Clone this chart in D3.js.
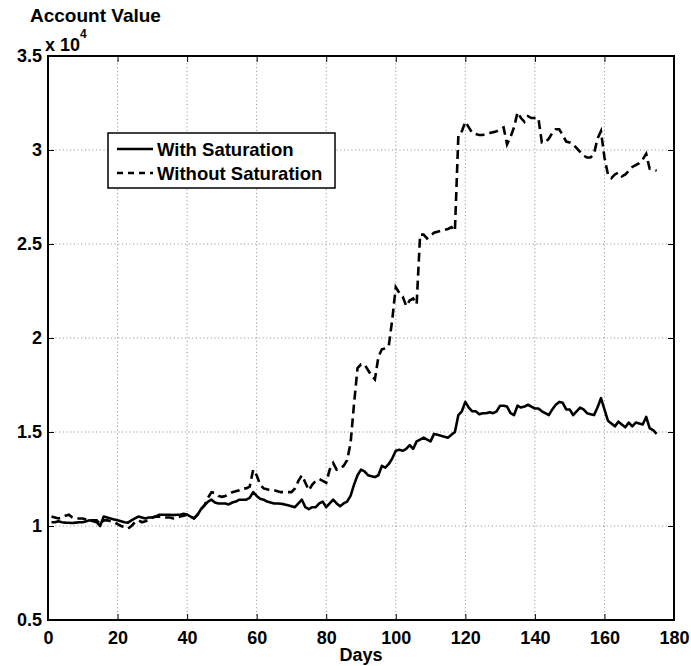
<!DOCTYPE html>
<html>
<head>
<meta charset="utf-8">
<script src="https://cdn.jsdelivr.net/npm/d3@7"></script>
<style>
  body { margin: 0; background: #fff; }
  svg { display: block; font-family: "Liberation Sans", Arial, Helvetica, sans-serif; font-weight: bold; }
</style>
</head>
<body>
<svg id="chart" width="691" height="666"></svg>
<script>
// account value in units of 10^4, one reading per day (day 1 .. 175)
const withSaturation = [
  1.02, 1.02, 1.025, 1.02, 1.018, 1.017, 1.016, 1.018, 1.02, 1.02,
  1.025, 1.03, 1.025, 1.02, 1.00, 1.05, 1.045, 1.04, 1.035, 1.03,
  1.025, 1.02, 1.018, 1.03, 1.04, 1.05, 1.045, 1.04, 1.045, 1.045,
  1.05, 1.06, 1.06, 1.06, 1.06, 1.058, 1.06, 1.06, 1.065, 1.06,
  1.05, 1.04, 1.06, 1.09, 1.11, 1.13, 1.14, 1.125, 1.12, 1.12,
  1.12, 1.115, 1.125, 1.13, 1.14, 1.14, 1.14, 1.15, 1.18, 1.16,
  1.145, 1.14, 1.13, 1.125, 1.12, 1.12, 1.118, 1.115, 1.11, 1.105,
  1.10, 1.12, 1.14, 1.10, 1.09, 1.10, 1.10, 1.12, 1.13, 1.10,
  1.12, 1.14, 1.12, 1.105, 1.12, 1.13, 1.16, 1.22, 1.27, 1.30,
  1.29, 1.27, 1.265, 1.26, 1.27, 1.32, 1.31, 1.33, 1.36, 1.40,
  1.405, 1.40, 1.41, 1.43, 1.41, 1.45, 1.46, 1.47, 1.46, 1.45,
  1.49, 1.485, 1.48, 1.475, 1.47, 1.485, 1.50, 1.59, 1.61, 1.66,
  1.63, 1.61, 1.61, 1.595, 1.60, 1.60, 1.605, 1.60, 1.61, 1.64,
  1.64, 1.635, 1.60, 1.59, 1.64, 1.63, 1.635, 1.645, 1.635, 1.625,
  1.625, 1.61, 1.60, 1.59, 1.62, 1.645, 1.66, 1.655, 1.62, 1.62,
  1.59, 1.61, 1.63, 1.62, 1.60, 1.595, 1.59, 1.63, 1.68, 1.62,
  1.56, 1.545, 1.53, 1.555, 1.54, 1.525, 1.55, 1.53, 1.55, 1.545,
  1.54, 1.58, 1.52, 1.51, 1.49
]

const withoutSaturation = [
  1.05, 1.045, 1.04, 1.045, 1.055, 1.06, 1.045, 1.04, 1.04, 1.04,
  1.035, 1.03, 1.03, 1.03, 1.01, 1.03, 1.03, 1.025, 1.02, 1.01,
  1.00, 0.995, 0.986, 1.00, 1.02, 1.03, 1.02, 1.025, 1.03, 1.045,
  1.05, 1.05, 1.05, 1.045, 1.045, 1.04, 1.045, 1.05, 1.055, 1.06,
  1.05, 1.04, 1.06, 1.09, 1.11, 1.15, 1.18, 1.175, 1.16, 1.155,
  1.16, 1.17, 1.18, 1.185, 1.19, 1.20, 1.20, 1.21, 1.30, 1.27,
  1.22, 1.20, 1.195, 1.19, 1.19, 1.185, 1.18, 1.18, 1.18, 1.18,
  1.20, 1.24, 1.27, 1.23, 1.19, 1.22, 1.24, 1.25, 1.24, 1.23,
  1.30, 1.335, 1.30, 1.305, 1.32, 1.35, 1.44, 1.65, 1.84, 1.86,
  1.86, 1.83, 1.80, 1.78, 1.90, 1.94, 1.945, 1.96, 2.10, 2.27,
  2.24, 2.22, 2.17, 2.20, 2.21, 2.18, 2.55, 2.55, 2.53, 2.545,
  2.56, 2.565, 2.57, 2.575, 2.58, 2.59, 2.57, 3.08, 3.10, 3.15,
  3.12, 3.09, 3.085, 3.08, 3.08, 3.085, 3.09, 3.095, 3.10, 3.11,
  3.12, 3.03, 3.07, 3.12, 3.20, 3.17, 3.15, 3.18, 3.17, 3.17,
  3.17, 3.04, 3.04, 3.06, 3.09, 3.11, 3.11, 3.08, 3.045, 3.04,
  3.03, 3.01, 2.99, 2.97, 2.96, 2.96, 2.98, 3.06, 3.10, 2.96,
  2.87, 2.85, 2.87, 2.88, 2.86, 2.87, 2.89, 2.91, 2.92, 2.93,
  2.95, 2.98, 2.90, 2.895, 2.89
]

const xTicks = [0, 20, 40, 60, 80, 100, 120, 140, 160, 180]
const yTicks = [0.5, 1, 1.5, 2, 2.5, 3, 3.5]
const seriesNames = ['With Saturation', 'Without Saturation']

const margin = { top: 56, right: 17, bottom: 46, left: 48 }
const width = 691
const height = 666
const svg = d3.select('#chart')

const x = d3.scaleLinear()
  .domain([0, 180])
  .range([margin.left, width - margin.right])

const y = d3.scaleLinear()
  .domain([0.5, 3.5])
  .range([height - margin.bottom, margin.top])

const fmt = d => d3.format('~g')(d)

// dotted grid
const grid = svg.append('g')
grid.selectAll('line.gx')
  .data(xTicks.slice(1, -1))
  .join('line')
  .attr('x1', d => x(d)).attr('x2', d => x(d))
  .attr('y1', y(3.5)).attr('y2', y(0.5))
grid.selectAll('line.gy')
  .data(yTicks.slice(1, -1))
  .join('line')
  .attr('class', 'gy')
  .attr('x1', x(0)).attr('x2', x(180))
  .attr('y1', d => y(d)).attr('y2', d => y(d))
grid.selectAll('line')
  .attr('stroke', '#8a8a8a')
  .attr('stroke-width', 1)
  .attr('stroke-dasharray', '1,2.7')

// axes with inward ticks on all four sides
const styleAxis = g => {
  g.select('.domain').remove()
  g.selectAll('.tick line').attr('stroke', '#000').attr('stroke-width', 1)
  g.selectAll('text').attr('fill', '#000').style('font-size', '18px').style('font-weight', 'bold')
}

svg.append('g')
  .attr('transform', `translate(0,${y(0.5)})`)
  .call(d3.axisBottom(x).tickValues(xTicks).tickFormat(fmt).tickSizeInner(-6).tickSizeOuter(0).tickPadding(11))
  .call(styleAxis)

svg.append('g')
  .attr('transform', `translate(0,${y(3.5)})`)
  .call(d3.axisTop(x).tickValues(xTicks).tickFormat('').tickSizeInner(-6).tickSizeOuter(0))
  .call(styleAxis)

svg.append('g')
  .attr('transform', `translate(${x(0)},0)`)
  .call(d3.axisLeft(y).tickValues(yTicks).tickFormat(fmt).tickSizeInner(-6).tickSizeOuter(0).tickPadding(6))
  .call(styleAxis)

svg.append('g')
  .attr('transform', `translate(${x(180)},0)`)
  .call(d3.axisRight(y).tickValues(yTicks).tickFormat('').tickSizeInner(-6).tickSizeOuter(0))
  .call(styleAxis)

// frame
svg.append('rect')
  .attr('x', x(0)).attr('y', y(3.5))
  .attr('width', x(180) - x(0)).attr('height', y(0.5) - y(3.5))
  .attr('fill', 'none')
  .attr('stroke', '#000')
  .attr('stroke-width', 2)

// series
const line = d3.line()
  .x((d, i) => x(i + 1))
  .y(d => y(d))

svg.append('path')
  .datum(withoutSaturation)
  .attr('fill', 'none')
  .attr('stroke', '#000')
  .attr('stroke-width', 2.6)
  .attr('stroke-dasharray', '9,5')
  .attr('d', line)

svg.append('path')
  .datum(withSaturation)
  .attr('fill', 'none')
  .attr('stroke', '#000')
  .attr('stroke-width', 2.6)
  .attr('stroke-linejoin', 'round')
  .attr('d', line)

// labels
svg.append('text')
  .attr('x', 30).attr('y', 22)
  .style('font-size', '19px')
  .text('Account Value')

const mult = svg.append('text')
  .attr('x', 45).attr('y', 51)
  .style('font-size', '18px')
mult.append('tspan').text('x 10')
mult.append('tspan').attr('dy', -13).style('font-size', '12px').text('4')

svg.append('text')
  .attr('x', (x(0) + x(180)) / 2).attr('y', 661)
  .attr('text-anchor', 'middle')
  .style('font-size', '18px')
  .text('Days')

// legend
const legend = svg.append('g').attr('transform', 'translate(108,133)')
legend.append('rect')
  .attr('width', 227).attr('height', 55)
  .attr('fill', '#fff')
  .attr('stroke', '#000')
  .attr('stroke-width', 1.5)

const rows = legend.selectAll('g.row')
  .data(seriesNames)
  .join('g')
  .attr('transform', (d, i) => `translate(0,${16 + i * 24})`)

rows.append('line')
  .attr('x1', 9).attr('x2', 45)
  .attr('stroke', '#000')
  .attr('stroke-width', 2.6)
  .attr('stroke-dasharray', (d, i) => i === 1 ? '6,5' : null)

rows.append('text')
  .attr('x', 49).attr('dy', '0.36em')
  .style('font-size', '18.5px')
  .text(d => d)
</script>
</body>
</html>
